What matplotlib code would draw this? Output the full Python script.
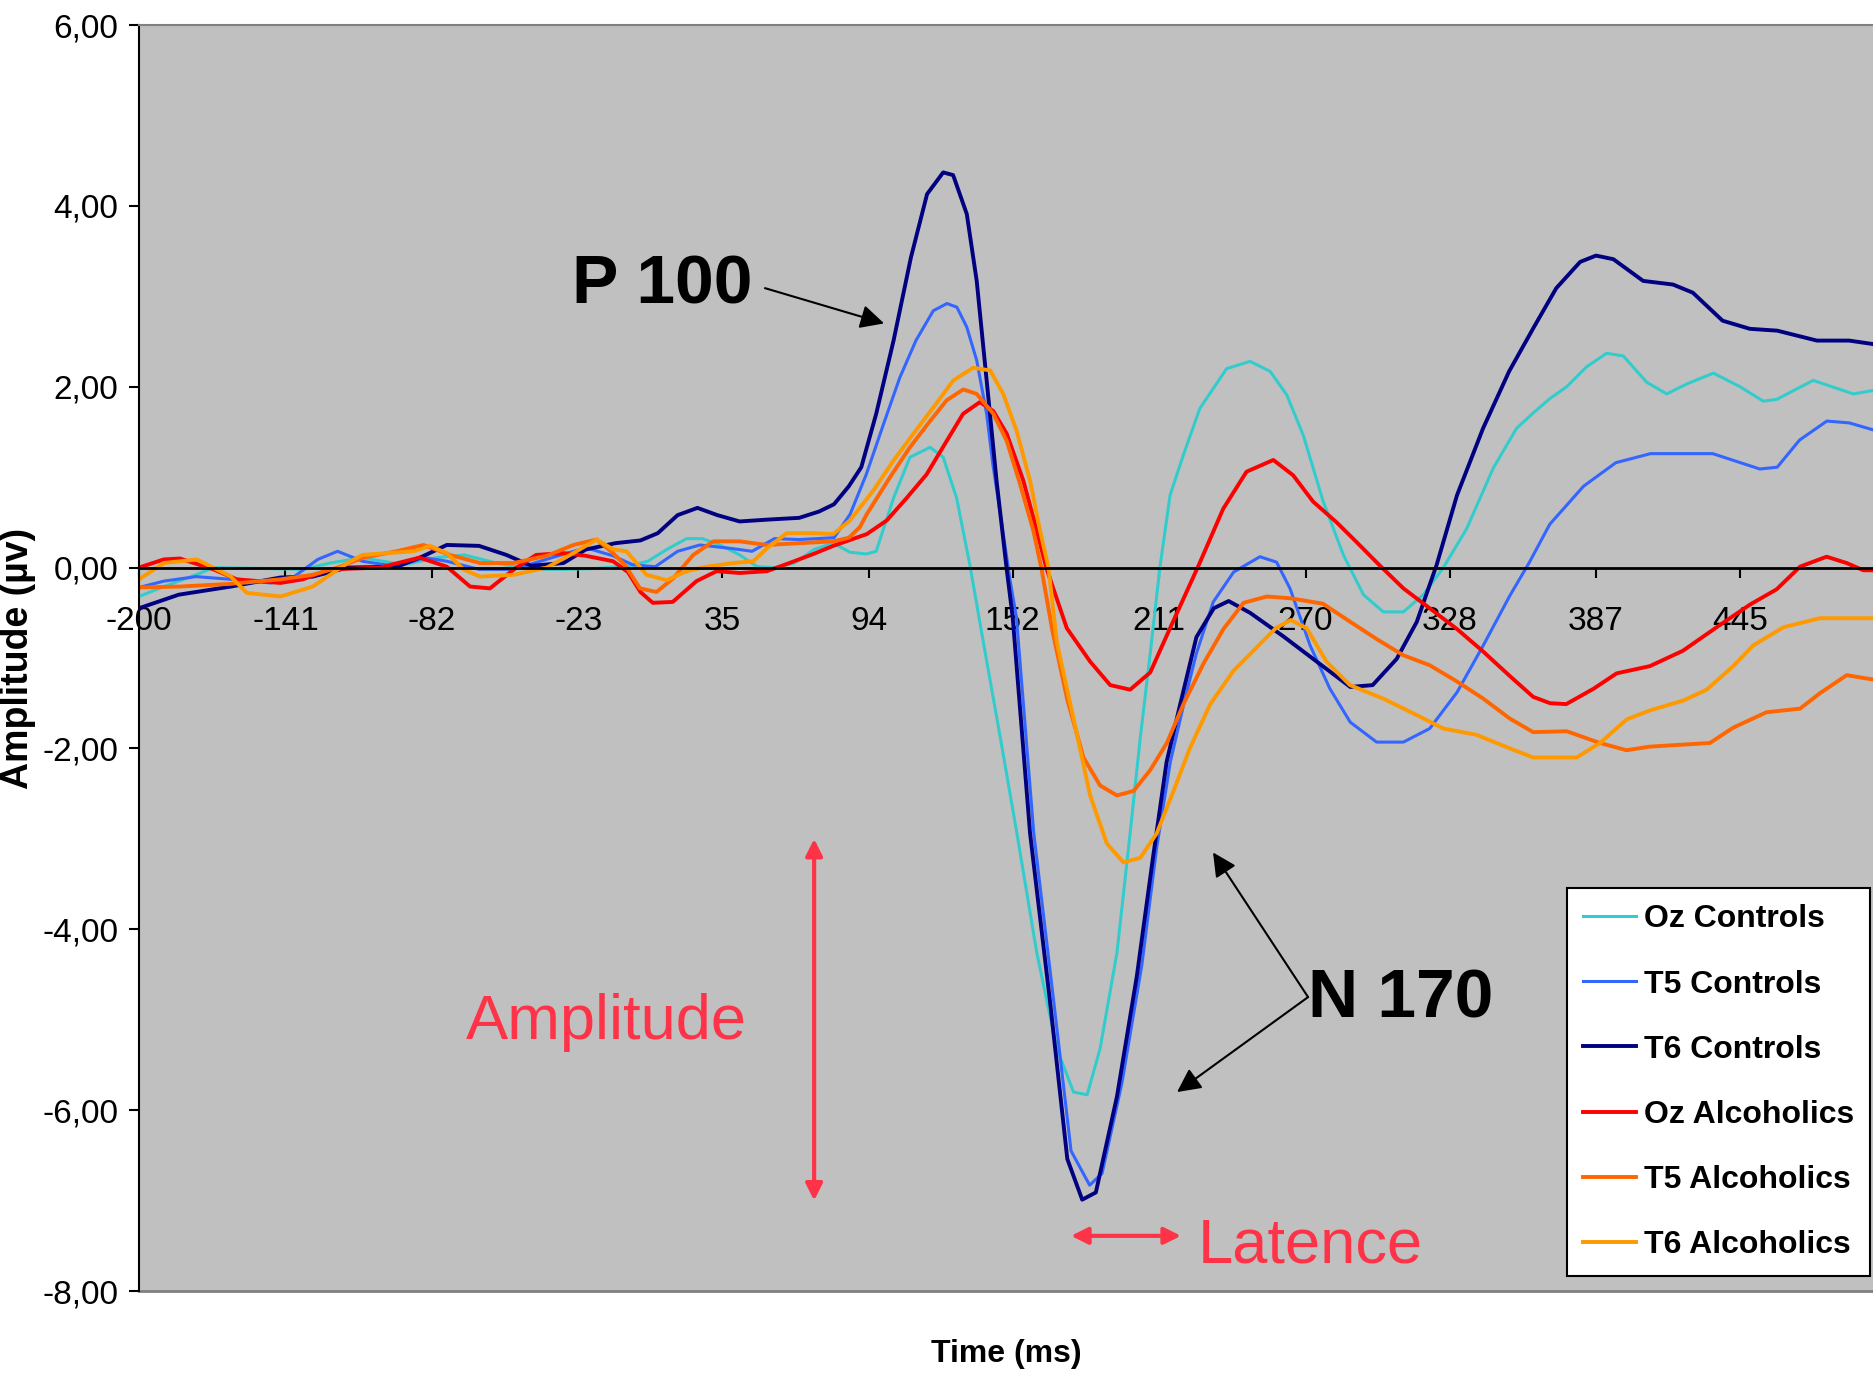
import numpy as np
import matplotlib
matplotlib.use('Agg')
import matplotlib.pyplot as plt

# ERP grand averages, time in ms, amplitude in microvolts
t_oz_controls = [-200, -190, -177, -170, -150, -134, -123, -110, -93.5, -80, -69, -56, -42, -29, -15.6, -2,
                 5, 12.6, 20.6, 27, 34, 42, 49, 56, 64, 72, 79.7, 86.4, 93, 97, 104, 110.6, 118.7, 124,
                 129.4, 134.8, 140.2, 147, 153.7, 161.7, 169.8, 176.5, 182, 187.2, 194, 199.3, 203.4, 207.4,
                 211.3, 215.4, 220.7, 227.4, 238.2, 247.6, 255.7, 262.4, 269.1, 277.1, 285.2, 293.3, 301.3,
                 309.4, 317.4, 325.5, 334.9, 345.6, 355, 361.7, 368.5, 375.2, 383.2, 391.3, 398, 407.4, 415.5,
                 423.5, 434.3, 445, 454.4, 459.8, 474.5, 490.7, 499]
v_oz_controls = [-0.32, -0.21, -0.08, 0.00, -0.01, -0.02, 0.05, 0.11, 0.03, 0.11, 0.14, 0.05, -0.02, -0.02, -0.01, 0.02,
                 0.07, 0.20, 0.32, 0.32, 0.25, 0.14, 0.01, 0.00, 0.05, 0.20, 0.27, 0.17, 0.15, 0.18, 0.77, 1.22, 1.33, 1.22,
                 0.77, 0.02, -0.83, -1.88, -2.94, -4.26, -5.32, -5.80, -5.83, -5.32, -4.26, -2.94, -1.88, -0.95,
                 0.00, 0.80, 1.24, 1.76, 2.20, 2.28, 2.17, 1.91, 1.46, 0.73, 0.14, -0.30, -0.49,
                 -0.49, -0.30, 0.00, 0.43, 1.10, 1.54, 1.71, 1.87, 2.00, 2.22, 2.37, 2.34, 2.05, 1.92,
                 2.03, 2.15, 2.00, 1.84, 1.86, 2.07, 1.92, 1.96]

t_t5_controls = [-200, -190, -177, -163, -147, -139, -128, -120, -110, -96, -85, -76, -63, -49, -36, -20, -9,
                 -1, 8, 17, 26, 39, 47, 56, 66, 80, 86.5, 93, 100, 106.5, 113, 120, 125.5, 129.5, 133.5, 137.5,
                 141.5, 144, 148, 151, 153.5, 160.5, 168.5, 175.5, 183, 188, 196, 204, 210, 215.5, 221, 226,
                 232.8, 241, 251.6, 258.3, 263.7, 271.8, 279.8, 288, 298.6, 309.4, 320, 331, 341.6, 352.3,
                 360, 368.4, 382, 395, 409, 434, 453, 460, 469, 480, 489, 499]
v_t5_controls = [-0.22, -0.15, -0.10, -0.13, -0.17, -0.13, 0.09, 0.18, 0.07, 0.01, 0.11, 0.07, -0.02, -0.02, 0.09, 0.22, 0.13,
                 0.03, 0.01, 0.18, 0.25, 0.21, 0.18, 0.32, 0.31, 0.33, 0.59, 1.03, 1.59, 2.10, 2.51, 2.84, 2.92, 2.88, 2.66, 2.29,
                 1.70, 1.14, 0.41, -0.15, -0.55, -2.94, -4.79, -6.45, -6.83, -6.70, -5.70, -4.40, -3.10, -2.15, -1.50, -0.95,
                 -0.38, -0.05, 0.12, 0.06, -0.23, -0.86, -1.34, -1.71, -1.93, -1.93, -1.78, -1.38, -0.86, -0.31,
                 0.05, 0.48, 0.90, 1.16, 1.26, 1.26, 1.09, 1.11, 1.41, 1.62, 1.60, 1.52]

t_t6_controls = [-200, -184, -163, -143, -130, -116, -96, -86, -76, -63, -52, -42, -29, -20, -8, 2, 9, 17, 25,
                 33, 42, 53, 66, 74, 80, 86, 91, 97, 104, 111, 117.5, 124, 128, 133.5, 137.5, 141.5, 145.5,
                 149.5, 152, 159, 167, 174, 180, 185.5, 194, 202, 208.5, 214, 219.5, 226, 233, 239, 247.6,
                 261, 274.5, 288, 297, 306.7, 314.8, 322.8, 331, 341.5, 352, 362, 371, 380.6, 387, 394, 406,
                 418, 426, 438, 449, 460, 476, 489, 499]
v_t6_controls = [-0.45, -0.30, -0.21, -0.11, -0.10, 0.00, 0.01, 0.12, 0.25, 0.24, 0.14, 0.02, 0.05, 0.20, 0.27, 0.30, 0.38, 0.58, 0.66,
                 0.58, 0.51, 0.53, 0.55, 0.62, 0.70, 0.90, 1.11, 1.70, 2.51, 3.43, 4.13, 4.37, 4.34, 3.91, 3.17, 2.07, 0.96,
                 0.00, -0.55, -2.94, -4.79, -6.54, -6.99, -6.91, -5.85, -4.52, -3.21, -2.15, -1.51, -0.77, -0.45, -0.37, -0.50,
                 -0.76, -1.04, -1.32, -1.30, -1.01, -0.60, 0.03, 0.80, 1.54, 2.17, 2.66, 3.09, 3.38, 3.45, 3.41, 3.17,
                 3.13, 3.04, 2.73, 2.64, 2.62, 2.51, 2.51, 2.47]

t_oz_alcoholics = [-200, -190, -183.5, -170, -160.6, -143, -134, -123, -103, -87, -76, -66.6, -58.6, -49, -40, -29,
                   -20, -9, -3, 2, 7, 15, 24.6, 32.7, 42, 53, 62, 71.7, 79.7, 93.2, 101.2, 109.3, 117.3, 125.4,
                   132, 138.8, 144.2, 149.6, 156.3, 161.7, 165.5, 173.8, 183.2, 191.3, 199.3, 207.4, 215.4, 227,
                   236.8, 246.2, 257, 265, 273, 282.5, 290.6, 300, 309.4, 320, 331, 341.6, 352.3, 361.7, 368.5,
                   375, 386, 395.3, 408.7, 422, 435.6, 449, 459.8, 469.2, 479.9, 488, 494.7, 499]
v_oz_alcoholics = [0.00, 0.09, 0.10, -0.02, -0.13, -0.17, -0.13, -0.02, 0.00, 0.11, 0.01, -0.21, -0.23, -0.02, 0.14, 0.16,
                   0.13, 0.07, -0.05, -0.27, -0.39, -0.38, -0.15, -0.04, -0.06, -0.04, 0.05, 0.15, 0.24, 0.37, 0.52, 0.77, 1.03, 1.40,
                   1.70, 1.83, 1.73, 1.48, 0.96, 0.41, 0.00, -0.67, -1.04, -1.30, -1.35, -1.16, -0.67, 0.03,
                   0.65, 1.06, 1.19, 1.02, 0.73, 0.50, 0.28, 0.02, -0.23, -0.45, -0.68, -0.93, -1.20, -1.43, -1.50,
                   -1.51, -1.34, -1.17, -1.09, -0.92, -0.66, -0.41, -0.24, 0.01, 0.12, 0.05, -0.03, -0.03]

t_t5_alcoholics = [-200, -183.5, -163, -143, -130, -120, -109.6, -96.2, -85.4, -74.7, -62.6, -49.2, -35.7, -25,
                   -15.6, -9, -4, 1.8, 8.5, 15.2, 23.3, 31.4, 42, 52.9, 66.3, 79.7, 86, 90.5, 93.2, 102.6, 110.6,
                   118.7, 125.4, 132.1, 137.5, 144.2, 149.6, 155, 160.3, 163.5, 168, 174, 180.5, 187.2, 194,
                   200.7, 207.4, 214.1, 220.8, 228.9, 236.9, 245, 254.4, 264, 277, 288, 298.6, 309.4, 320, 331,
                   341.6, 352.3, 361.7, 375.2, 388.6, 399.3, 408.7, 432.9, 442.3, 455.7, 469.2, 477.2, 488, 499]
v_t5_alcoholics = [-0.22, -0.21, -0.18, -0.13, -0.08, 0.00, 0.11, 0.18, 0.25, 0.14, 0.05, 0.05, 0.13, 0.25,
                   0.31, 0.16, 0.02, -0.23, -0.27, -0.12, 0.14, 0.29, 0.29, 0.25, 0.27, 0.29, 0.33, 0.45, 0.59, 1.00, 1.33,
                   1.62, 1.85, 1.97, 1.92, 1.70, 1.40, 0.92, 0.41, 0.00, -0.70, -1.46, -2.10, -2.41, -2.52,
                   -2.47, -2.24, -1.94, -1.51, -1.06, -0.68, -0.39, -0.32, -0.34, -0.40, -0.60, -0.79, -0.97, -1.08, -1.26,
                   -1.45, -1.67, -1.82, -1.81, -1.94, -2.02, -1.98, -1.94, -1.77, -1.60, -1.56, -1.39, -1.19, -1.24]

t_t6_alcoholics = [-200, -190, -176.7, -163, -156.6, -143, -130, -116, -110, -89.4, -82.7, -76, -69.3, -62.6, -49,
                   -35.7, -25, -15.6, -8.9, -3.6, 4.5, 12.6, 20.6, 28.7, 39.4, 47.5, 52.9, 60.9, 71.7, 79.7, 86.4,
                   95.8, 103.9, 112, 120, 128.1, 136.1, 142.9, 148.2, 153.6, 159, 163, 166.4, 169.8, 176.5, 183.2,
                   189.9, 196.6, 203.4, 210, 216.8, 223.5, 231.6, 241, 250.4, 258, 264, 270.4, 278.4, 287.9, 301.3,
                   314.7, 325.5, 338.9, 352.3, 361.7, 379.2, 388.6, 399.3, 408.7, 422.2, 431.6, 442.3, 450.4, 462.5,
                   477.2, 499]
v_t6_alcoholics = [-0.13, 0.05, 0.09, -0.10, -0.28, -0.32, -0.21, 0.05, 0.14, 0.18, 0.24, 0.16, -0.02, -0.10, -0.08,
                   0.00, 0.16, 0.31, 0.20, 0.18, -0.08, -0.14, -0.04, 0.01, 0.05, 0.07, 0.21, 0.38, 0.38, 0.37, 0.52,
                   0.85, 1.18, 1.48, 1.77, 2.07, 2.21, 2.18, 1.92, 1.51, 0.96, 0.41, 0.00, -0.83, -1.67, -2.52,
                   -3.05, -3.26, -3.21, -2.94, -2.47, -1.99, -1.51, -1.14, -0.88, -0.67, -0.58, -0.67, -1.04, -1.30, -1.45,
                   -1.63, -1.78, -1.85, -2.00, -2.10, -2.10, -1.94, -1.68, -1.58, -1.47, -1.35, -1.09, -0.86, -0.66,
                   -0.56, -0.56]

labels = ['Oz Controls', 'T5 Controls', 'T6 Controls', 'Oz Alcoholics', 'T5 Alcoholics', 'T6 Alcoholics']
colors = ['#33CCCC', '#3366FF', '#000080', '#FF0000', '#FF6600', '#FF9900']

x_ticks = [-200, -141, -82, -23, 35, 94, 152, 211, 270, 328, 387, 445]
y_ticks = [-8, -6, -4, -2, 0, 2, 4, 6]

plt.rcParams['font.family'] = ['Liberation Sans', 'DejaVu Sans']
red = '#FF3348'

fig = plt.figure(figsize=(18.74, 13.76), dpi=100)
ax = fig.add_axes([139 / 1874, 85 / 1376, 1735 / 1874, 1266 / 1376])
ax.set_facecolor('#C0C0C0')

series = [(t_oz_controls, v_oz_controls, 2.2), (t_t5_controls, v_t5_controls, 2.2),
          (t_t6_controls, v_t6_controls, 2.8), (t_oz_alcoholics, v_oz_alcoholics, 2.8),
          (t_t5_alcoholics, v_t5_alcoholics, 2.8), (t_t6_alcoholics, v_t6_alcoholics, 2.8)]
for (t, v, lw), c, lab in zip(series, colors, labels):
    ax.plot(t, v, color=c, lw=lw, label=lab, solid_joinstyle='round')

ax.set_xlim(-200, 499)
ax.set_ylim(-8, 6)

ax.spines['bottom'].set_position(('data', 0))
ax.spines['bottom'].set_linewidth(2)
ax.spines['left'].set_linewidth(1.5)
ax.spines['top'].set_color('#808080')
ax.spines['top'].set_linewidth(1.5)
ax.spines['right'].set_visible(False)
ax.axhline(-8, color='#808080', lw=2, clip_on=False)

ax.set_xticks(x_ticks)
ax.set_xticklabels([str(x) for x in x_ticks])
ax.set_yticks(y_ticks)
ax.set_yticklabels([('%.2f' % y).replace('.', ',') for y in y_ticks])
ax.tick_params(axis='x', direction='out', length=7, width=1.5, pad=21, labelsize=24)
ax.tick_params(axis='y', direction='out', length=7, width=1.5, pad=8, labelsize=24)

ax.set_xlabel('Time (ms)', fontsize=23, fontweight='bold')
ax.xaxis.set_label_coords(0.5, -0.05)
ax.xaxis.label.set_va('center')
ax.set_ylabel('Amplitude (µv)', fontsize=27, fontweight='bold')
ax.yaxis.set_label_coords(-0.0697, 0.5)
ax.yaxis.label.set_va('center')

leg = ax.legend(loc='lower right', bbox_to_anchor=(0.9977, 0.0118), borderaxespad=0,
                prop={'weight': 'bold', 'size': 23},
                fancybox=False, framealpha=1, edgecolor='black', handlelength=1.65,
                handletextpad=0.25, labelspacing=1.1, borderpad=0.5)
leg.get_frame().set_linewidth(1.5)

# peak labels and arrows
ax.text(11, 3.12, 'P 100', fontsize=50, fontweight='bold', ha='center', va='center')
ax.text(308.5, -4.78, 'N 170', fontsize=50, fontweight='bold', ha='center', va='center')
head = dict(arrowstyle='-|>', color='black', lw=1.5, mutation_scale=36, shrinkA=0, shrinkB=0)
ax.annotate('', xy=(100.2, 2.70), xytext=(52.2, 3.09), arrowprops=head)
ax.annotate('', xy=(232.7, -3.15), xytext=(271, -4.75), arrowprops=head)
ax.annotate('', xy=(218.2, -5.80), xytext=(271, -4.75), arrowprops=head)

both = dict(arrowstyle='<|-|>', color=red, lw=3, mutation_scale=25, shrinkA=0, shrinkB=0)
ax.annotate('', xy=(72, -7.0), xytext=(72, -3.0), arrowprops=both)
ax.annotate('', xy=(219.8, -7.39), xytext=(175.5, -7.39), arrowprops=both)
ax.text(-11.8, -5.21, 'Amplitude', color=red, fontsize=45.5, ha='center', va='baseline')
ax.text(271.8, -7.68, 'Latence', color=red, fontsize=45.5, ha='center', va='baseline')

fig.savefig('out.png', dpi=100)
